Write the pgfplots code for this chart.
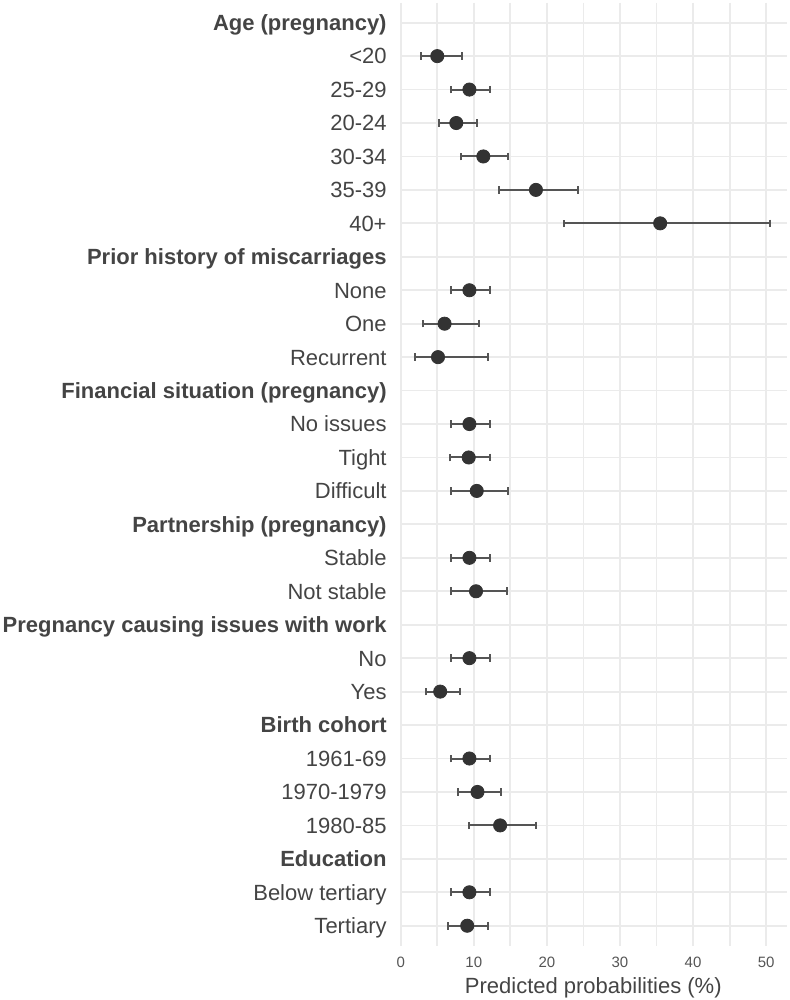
\documentclass[border=0pt]{standalone}
\usepackage{fontspec}
\setmainfont{Liberation Sans}
\usepackage{pgfplots}
\pgfplotsset{compat=1.18}
\usepackage{pgfplotstable}
\definecolor{txt}{HTML}{444444}
\definecolor{tick}{HTML}{555555}
\definecolor{gridc}{HTML}{EBEBEB}
\definecolor{ptc}{HTML}{333333}
\definecolor{barc}{HTML}{555555}

\pgfplotstableread{
row est lo hi
2 5.0 2.8 8.4
3 9.4 6.9 12.2
4 7.6 5.3 10.4
5 11.3 8.3 14.7
6 18.5 13.5 24.2
7 35.5 22.3 50.5
9 9.4 6.9 12.2
10 6.0 3.1 10.7
11 5.1 2.0 11.9
13 9.4 6.9 12.2
14 9.3 6.7 12.2
15 10.4 6.9 14.7
17 9.4 6.9 12.2
18 10.3 6.9 14.6
20 9.4 6.9 12.2
21 5.4 3.4 8.1
23 9.4 6.9 12.2
24 10.5 7.8 13.7
25 13.6 9.4 18.5
27 9.4 6.9 12.2
28 9.1 6.5 12.0
}\data

\begin{document}
\begin{tikzpicture}
\useasboundingbox (0,0) rectangle (395pt,500pt);
\begin{axis}[
  at={(200pt,27.1pt)}, anchor=south west,
  scale only axis, width=193.3pt, height=471.6pt,
  xmin=-0.1, xmax=52.8, ymin=0.4, ymax=28.6, y dir=reverse,
  axis line style={draw=none}, tick style={draw=none}, major tick length=0pt, minor tick length=0pt,
  xtick={0,10,...,50}, minor xtick={5,15,...,45},
  ytick={1,...,28},
  yticklabels={{\bfseries Age (pregnancy)},{<20},{25-29},{20-24},{30-34},{35-39},{40+},
    {\bfseries Prior history of miscarriages},{None},{One},{Recurrent},
    {\bfseries Financial situation (pregnancy)},{No issues},{Tight},{Difficult},
    {\bfseries Partnership (pregnancy)},{Stable},{Not stable},
    {\bfseries Pregnancy causing issues with work},{No},{Yes},
    {\bfseries Birth cohort},{1961-69},{1970-1979},{1980-85},
    {\bfseries Education},{Below tertiary},{Tertiary}},
  xmajorgrids, xminorgrids, ymajorgrids,
  major grid style={gridc, line width=0.9pt},
  minor grid style={gridc, line width=0.9pt},
  /pgf/number format/assume math mode=true,
  xticklabel style={font=\fontsize{7.5}{9}\selectfont, text=tick, inner sep=0pt, anchor=north, yshift=-5.4pt},
  yticklabel style={font=\fontsize{11}{13}\selectfont, text=txt, inner sep=0pt, anchor=base east, xshift=-6.5pt, yshift=-3.94pt},
  xlabel={Predicted probabilities (\%)},
  xlabel style={font=\fontsize{11}{13}\selectfont, text=txt, inner sep=0pt, at={(axis description cs:0.5,0)}, anchor=north, yshift=-15.6pt},
  clip=false,
]
\addplot[only marks, mark=*, mark size=3.3pt, mark options={fill=ptc, draw=ptc},
  error bars/.cd, x dir=both, x explicit, error mark=|,
  error bar style={barc, line width=1pt},
  error mark options={barc, line width=1pt, mark size=1.9pt}]
  table[x=est, y=row, x error plus expr=\thisrow{hi}-\thisrow{est}, x error minus expr=\thisrow{est}-\thisrow{lo}] {\data};
\end{axis}
\end{tikzpicture}
\end{document}
